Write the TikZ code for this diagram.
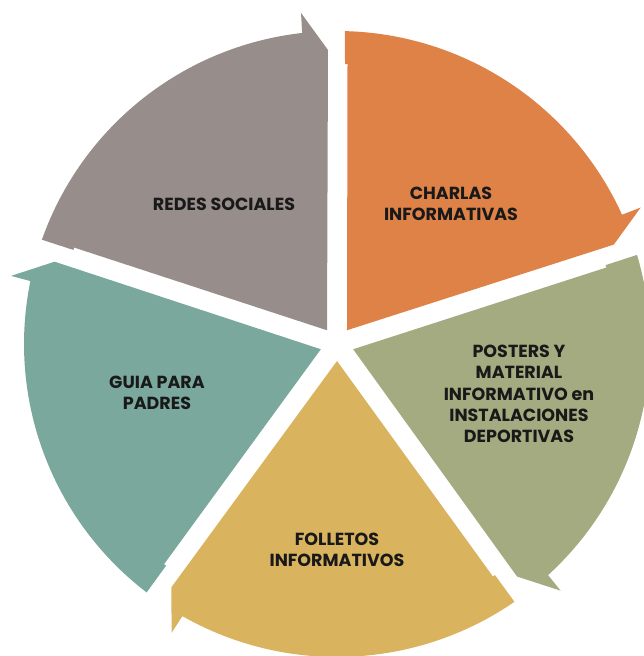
\documentclass[tikz,border=0pt]{standalone}
\usepackage{fontspec}
\setmainfont{Poppins}
\usetikzlibrary{calc}
\definecolor{gris}{HTML}{978D8A}
\definecolor{naranja}{HTML}{DF8248}
\definecolor{oliva}{HTML}{A5AB80}
\definecolor{ocre}{HTML}{D9B35E}
\definecolor{verdeazul}{HTML}{7AA89C}
\tikzset{
  etiqueta/.style={align=center, font=\bfseries\fontsize{17.5}{21.3}\selectfont, text=black!90},
}
\begin{document}
\begin{tikzpicture}[x=1pt,y=1pt]
  \useasboundingbox (0,0) rectangle (644,656);
  \coordinate (C) at (337,312);
%Segmentos del ciclo
  \foreach \ini/\col in {162/gris,90/naranja,18/oliva,-54/ocre,-126/verdeazul}{
    \pgfmathsetmacro\fin{\ini-72}
    \fill[\col] ($(C)+(\ini-36:17pt)$) -- ($(C)+(\ini:279.8pt)+(\ini-90:10.5pt)$)
      -- ($(C)+(\ini:279.8pt)+(\ini-90:8pt)$) -- ($(C)+(\ini-1.46:313pt)$)
      arc[start angle=\ini-1.46, end angle=\fin+6.4, radius=313pt]
      -- ($(C)+(\fin+6.2:333pt)$) -- ($(C)+(\fin:294pt)+(\fin+90:9pt)$) -- cycle;
  }
%Textos
  \node[etiqueta] (redes) at (224,452) {REDES SOCIALES};
  \node[etiqueta] (charlas) at (451,452) {CHARLAS\\INFORMATIVAS};
  \node[etiqueta] (posters) at (519,262) {POSTERS Y\\MATERIAL\\INFORMATIVO en\\INSTALACIONES\\DEPORTIVAS};
  \node[etiqueta] (folletos) at (337,106) {FOLLETOS\\INFORMATIVOS};
  \node[etiqueta] (guia) at (157,263) {GUIA PARA\\PADRES};
\end{tikzpicture}
\end{document}
